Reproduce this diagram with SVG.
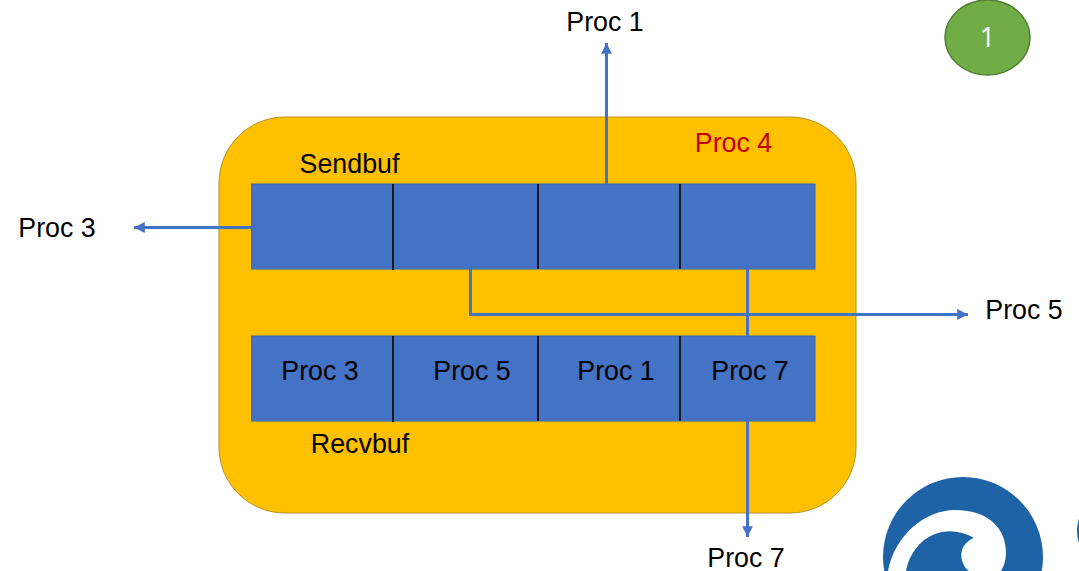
<svg xmlns="http://www.w3.org/2000/svg" width="1079" height="571" viewBox="0 0 1079 571">
<defs>
<style>
text{font-family:"Liberation Sans",Arial,sans-serif;font-size:26.800px;fill:#000;text-anchor:middle}
.buf{fill:#4472c4;stroke:#3f66ad;stroke-width:1}
.div{stroke:#14181f;stroke-width:2;fill:none}
.conn{stroke:#4472c4;stroke-width:3;fill:none}
.logo{fill:#1d63a6}
</style>
<marker id="arrow" viewBox="0 0 10 10" refX="10" refY="5" markerWidth="3.600" markerHeight="3.600" orient="auto"><path d="M0 0L10 5L0 10Z" fill="#4472c4"/></marker>
</defs>
<rect width="1079" height="571" fill="#fff"/>
<g id="proc4-box"><rect x="219" y="117" width="637" height="396" rx="66" fill="#ffc000" stroke="#b5922a" stroke-width="1"/>
<text x="733.500" y="152" style="fill:#c00000">Proc 4</text></g>
<g id="sendbuf"><rect class="buf" x="251.500" y="184" width="563.500" height="85"/>
<path class="div" d="M393 184V270M538 184V269M680 184V269"/>
<text x="349.500" y="173">Sendbuf</text></g>
<g id="recvbuf"><rect class="buf" x="251.500" y="336" width="563.500" height="85"/>
<path class="div" d="M393 336V422M538 336V421M680 336V421"/>
<text x="320" y="380">Proc 3</text><text x="472" y="380">Proc 5</text><text x="616" y="380">Proc 1</text><text x="750" y="380">Proc 7</text>
<text x="360" y="453">Recvbuf</text></g>
<g id="connectors">
<path class="conn" marker-end="url(#arrow)" d="M606.500 184V43"/>
<path class="conn" marker-end="url(#arrow)" d="M251 227.500H134"/>
<path class="conn" marker-end="url(#arrow)" d="M470.500 269V314.500H968"/>
<path class="conn" d="M747.500 269V336"/>
<path class="conn" marker-end="url(#arrow)" d="M747.500 421V537"/>
</g>
<g id="proc1-label"><text x="605" y="31">Proc 1</text></g>
<g id="proc3-label"><text x="57" y="237">Proc 3</text></g>
<g id="proc5-label"><text x="1024" y="319">Proc 5</text></g>
<g id="proc7-label"><text x="746" y="567">Proc 7</text></g>
<g id="badge"><ellipse cx="987.500" cy="37.500" rx="42.500" ry="37.500" fill="#70ad47" stroke="#507e32" stroke-width="1.500"/>
<text x="987.500" y="47" style="fill:#fff;font-family:'Open Sans','Liberation Sans',sans-serif;font-size:27px">1</text></g>
<g id="logo">
<circle class="logo" cx="963" cy="557" r="80"/>
<path d="M888 571C895 535 925 510 955 510C990 510 1006 530 1006 552C1006 560 1004 566 1001 571H969C962 566 960 556 962 550C964 544 970 539 974 538C964 532 952 530 942 532C925 535 910 550 906 571Z" fill="#fff"/>
<circle class="logo" cx="1117" cy="531" r="40"/>
</g>
</svg>
